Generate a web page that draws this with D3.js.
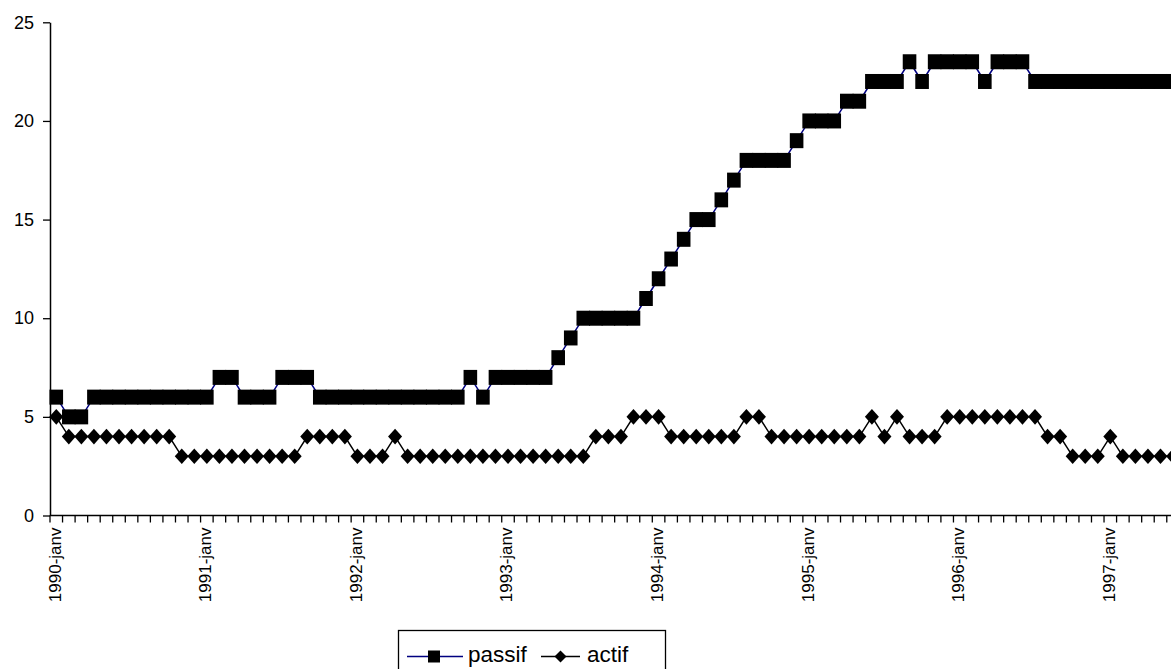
<!DOCTYPE html>
<html>
<head>
<meta charset="utf-8">
<script src="https://cdn.jsdelivr.net/npm/d3@7"></script>
<style>
  html, body { margin: 0; padding: 0; background: #fff; }
  svg { display: block; font-family: "Liberation Sans", Arial, sans-serif; }
</style>
</head>
<body>
<svg id="chart" width="1171" height="669"></svg>
<script>
// ---- data ----
const years = [1990, 1991, 1992, 1993, 1994, 1995, 1996, 1997];
const months = ["janv", "févr", "mars", "avr", "mai", "juin", "juil", "août", "sept", "oct", "nov", "déc"];
const monthCount = 90; // 1990-janv .. 1997-juin
const categories = [];
years.forEach(y => months.forEach(m => { if (categories.length < monthCount) categories.push(y + "-" + m); }));

const passif = [
  6,5,5,6,6,6,6,6,6,6,6,6,
  6,7,7,6,6,6,7,7,7,6,6,6,
  6,6,6,6,6,6,6,6,6,7,6,7,
  7,7,7,7,8,9,10,10,10,10,10,11,
  12,13,14,15,15,16,17,18,18,18,18,19,
  20,20,20,21,21,22,22,22,23,22,23,23,
  23,23,22,23,23,23,22,22,22,22,22,22,
  22,22,22,22,22,22
];
const actif = [
  5,4,4,4,4,4,4,4,4,4,3,3,
  3,3,3,3,3,3,3,3,4,4,4,4,
  3,3,3,4,3,3,3,3,3,3,3,3,
  3,3,3,3,3,3,3,4,4,4,5,5,
  5,4,4,4,4,4,4,5,5,4,4,4,
  4,4,4,4,4,5,4,5,4,4,4,5,
  5,5,5,5,5,5,5,4,4,3,3,3,
  4,3,3,3,3,3
];
const yTicks = [0, 5, 10, 15, 20, 25];
const seriesNames = ["passif", "actif"];

// ---- layout ----
const svg = d3.select("#chart");
const x0 = 50, step = 12.548;
const x = d3.scaleBand().domain(categories).range([x0, x0 + step * categories.length]).padding(0);
const y = d3.scaleLinear().domain([0, 25]).range([515.5, 22.3]);
const cx = c => x(c) + x.bandwidth() / 2;

// y axis
const yAxis = svg.append("g").attr("transform", `translate(${x0},0)`)
  .call(d3.axisLeft(y).tickValues(yTicks).tickSize(7).tickPadding(9).tickSizeOuter(0));
yAxis.select(".domain").attr("stroke", "#000").attr("stroke-width", 1.5);
yAxis.selectAll(".tick line").attr("stroke", "#000").attr("stroke-width", 1.3);
yAxis.selectAll(".tick text").attr("font-size", 18).attr("fill", "#000")
  .attr("font-family", "'Liberation Sans', Arial, sans-serif");

// x axis
const gx = svg.append("g");
gx.append("line").attr("x1", x0).attr("x2", x0 + step * categories.length)
  .attr("y1", y(0)).attr("y2", y(0)).attr("stroke", "#000").attr("stroke-width", 1.5);
gx.selectAll("line.tk").data(d3.range(categories.length + 1)).enter().append("line")
  .attr("class", "tk")
  .attr("x1", k => x0 + k * x.step()).attr("x2", k => x0 + k * x.step())
  .attr("y1", y(0)).attr("y2", y(0) + 7)
  .attr("stroke", "#000").attr("stroke-width", 1.3);
gx.selectAll("text").data(categories.filter(c => c.endsWith("-janv"))).enter().append("text")
  .attr("transform", c => `translate(${cx(c) - 1.5},${y(0) + 12}) rotate(-90)`)
  .attr("text-anchor", "end").attr("dy", "0.35em")
  .attr("font-size", 17).attr("fill", "#000")
  .text(c => c);

// passif series
const line = d3.line().x((d, i) => cx(categories[i])).y(d => y(d));
svg.append("path").datum(passif).attr("d", line)
  .attr("fill", "none").attr("stroke", "#000080").attr("stroke-width", 1.5);
svg.append("g").selectAll("rect").data(passif).enter().append("rect")
  .attr("x", (d, i) => cx(categories[i]) - 6.8).attr("y", d => y(d) - 7.5)
  .attr("width", 13.6).attr("height", 15).attr("fill", "#000");

// actif series
svg.append("path").datum(actif).attr("d", line)
  .attr("fill", "none").attr("stroke", "#000").attr("stroke-width", 1.5);
const diamond = (px, py) => `M${px},${py - 7.8}L${px + 7},${py}L${px},${py + 7.8}L${px - 7},${py}Z`;
svg.append("g").selectAll("path").data(actif).enter().append("path")
  .attr("d", (d, i) => diamond(cx(categories[i]), y(d))).attr("fill", "#000");

// legend
const lg = svg.append("g");
lg.append("rect").attr("x", 398.5).attr("y", 630.5).attr("width", 267).attr("height", 60)
  .attr("fill", "#fff").attr("stroke", "#000").attr("stroke-width", 1.3);
const ly = 656.5;
lg.append("line").attr("x1", 407).attr("x2", 463).attr("y1", ly).attr("y2", ly)
  .attr("stroke", "#000080").attr("stroke-width", 1.5);
lg.append("rect").attr("x", 428).attr("y", ly - 6).attr("width", 12).attr("height", 12).attr("fill", "#000");
lg.append("text").attr("x", 468).attr("y", 661.5).attr("font-size", 22.5).text(seriesNames[0]);
lg.append("line").attr("x1", 541).attr("x2", 580).attr("y1", ly).attr("y2", ly)
  .attr("stroke", "#000").attr("stroke-width", 1.5);
lg.append("path").attr("d", `M560.5,${ly - 6}L566.5,${ly}L560.5,${ly + 6}L554.5,${ly}Z`).attr("fill", "#000");
lg.append("text").attr("x", 587).attr("y", 661.5).attr("font-size", 22.5).text(seriesNames[1]);
</script>
</body>
</html>
